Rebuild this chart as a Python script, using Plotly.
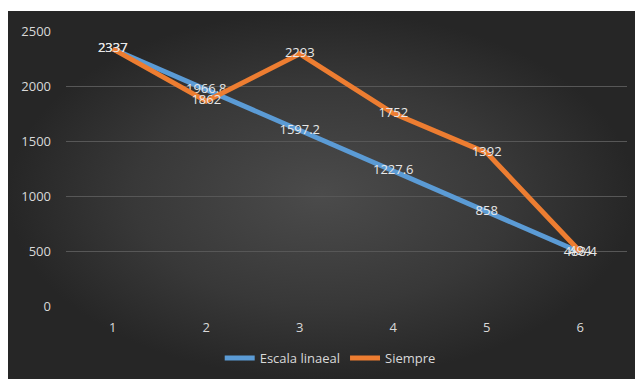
import plotly.graph_objects as go

categories = ["1", "2", "3", "4", "5", "6"]
escala_lineal = [2337, 1966.8, 1597.2, 1227.6, 858, 488.4]
siempre = [2337, 1862, 2293, 1752, 1392, 494]
y_ticks = [0, 500, 1000, 1500, 2000, 2500]

W, H = 635, 379
pl, pr, pt, pb = 66, 627, 31, 306  # plot area in pixels

fig = go.Figure()

# background chart area with radial gradient (decoration)
fig.add_trace(go.Scatter(
    x=[8, W, W, 8, 8], y=[0, 0, H - 11, H - 11, 0],
    xaxis="x", yaxis="y", mode="lines", line=dict(width=0),
    fill="toself",
    fillgradient=dict(type="radial",
                      colorscale=[[0, "#4b4b4b"], [0.6, "#383838"], [1, "#262626"]]),
    hoverinfo="skip", showlegend=False,
))

label_font = dict(color="#e8e8e8", size=13, family="Open Sans")

fig.add_trace(go.Scatter(
    x=categories, y=escala_lineal, name="Escala linaeal",
    xaxis="x2", yaxis="y2",
    mode="lines+text", text=[str(v) for v in escala_lineal],
    textposition="middle center", textfont=label_font,
    line=dict(color="#5B9BD5", width=5),
))
fig.add_trace(go.Scatter(
    x=categories, y=siempre, name="Siempre",
    xaxis="x2", yaxis="y2",
    mode="lines+text", text=[str(v) for v in siempre],
    textposition="middle center", textfont=label_font,
    line=dict(color="#ED7D31", width=5),
))

fig.update_layout(
    template="none",
    width=W, height=H,
    margin=dict(l=0, r=0, t=0, b=0, pad=0),
    paper_bgcolor="white",
    plot_bgcolor="rgba(0,0,0,0)",
    font=dict(family="Open Sans", color="#d9d9d9", size=13),
    xaxis=dict(domain=[0, 1], range=[0, W], visible=False, fixedrange=True,
               automargin=False),
    yaxis=dict(domain=[0, 1], range=[0, H], visible=False, fixedrange=True,
               automargin=False),
    xaxis2=dict(
        domain=[pl / W, pr / W], anchor="y2", type="category",
        range=[-0.5, 5.5], automargin=False,
        showgrid=False, zeroline=False, showline=False,
        ticks="", ticklabelstandoff=12,
        tickfont=dict(color="#d9d9d9", size=13),
    ),
    yaxis2=dict(
        domain=[(H - pb) / H, (H - pt) / H], anchor="x2",
        range=[0, 2500], tickvals=y_ticks, automargin=False,
        showgrid=True, gridcolor="#575757", gridwidth=1,
        zeroline=False, showline=False, ticks="",
        ticklabelstandoff=14,
        tickfont=dict(color="#d9d9d9", size=13),
    ),
    legend=dict(
        orientation="h", x=0.52, xanchor="center", y=(H - 358) / H, yanchor="middle",
        font=dict(color="#d9d9d9", size=13), bgcolor="rgba(0,0,0,0)",
        itemwidth=30,
    ),
    showlegend=True,
)

fig.write_html("out.html")
